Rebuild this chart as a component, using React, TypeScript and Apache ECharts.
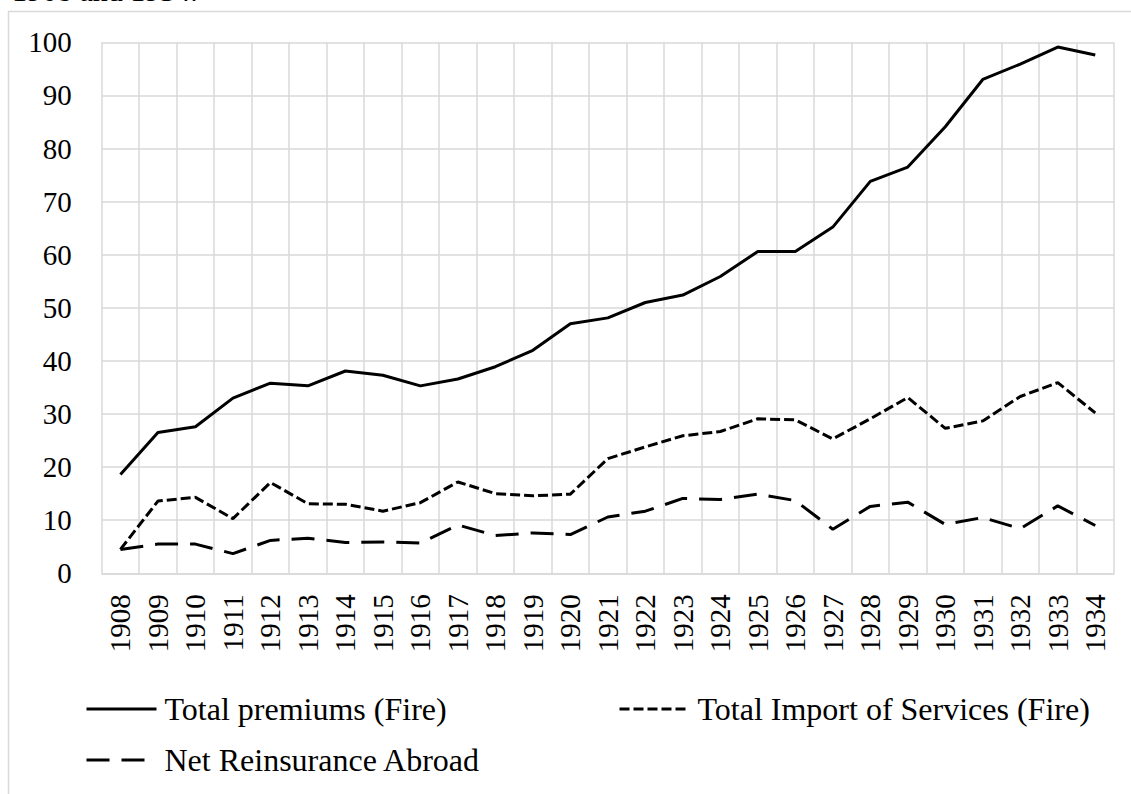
import React, { useEffect, useRef } from "react";
import * as echarts from "echarts";

const years = [
  "1908", "1909", "1910", "1911", "1912", "1913", "1914", "1915", "1916",
  "1917", "1918", "1919", "1920", "1921", "1922", "1923", "1924", "1925",
  "1926", "1927", "1928", "1929", "1930", "1931", "1932", "1933", "1934",
];

const totalPremiums = [
  18.6, 26.5, 27.6, 33.0, 35.8, 35.3, 38.1, 37.3, 35.3, 36.6, 38.9, 42.0, 47.0,
  48.1, 51.0, 52.4, 55.9, 60.6, 60.6, 65.2, 73.8, 76.5, 84.1, 93.0, 95.9, 99.1, 97.6,
];

const importServices = [
  4.5, 13.6, 14.3, 10.3, 17.1, 13.1, 13.0, 11.7, 13.3, 17.2, 15.0, 14.6, 14.9,
  21.6, 23.8, 25.9, 26.7, 29.1, 28.9, 25.3, 29.1, 33.1, 27.3, 28.7, 33.3, 35.9, 30.2,
];

const netReinsurance = [
  4.5, 5.5, 5.5, 3.7, 6.2, 6.6, 5.8, 5.9, 5.7, 9.1, 7.1, 7.6, 7.3,
  10.6, 11.7, 14.1, 13.9, 14.9, 13.7, 8.3, 12.6, 13.4, 9.2, 10.5, 8.4, 12.7, 9.0,
];

const seriesNames = [
  "Total premiums (Fire)",
  "Total Import of Services (Fire)",
  "Net Reinsurance Abroad",
];

const captionText = "1908 and 1934.";

const FONT = "'Liberation Serif', 'Times New Roman', serif";
const GRID = "#d9d9d9";

export default function App() {
  const ref = useRef<HTMLDivElement>(null);

  useEffect(() => {
    if (!ref.current) return;
    const chart = echarts.init(ref.current, undefined, { renderer: "svg" });
    const legendBase = {
      itemWidth: 70,
      itemHeight: 14,
      padding: 0,
      selectedMode: false,
      itemStyle: { opacity: 0, borderWidth: 0 },
      lineStyle: { width: 3 },
      textStyle: {
        fontSize: 32,
        fontFamily: FONT,
        color: "#000",
        lineHeight: 32,
        padding: [0, 0, 0, 3],
      },
    };
    chart.setOption({
      animation: false,
      backgroundColor: "#fff",
      textStyle: { fontFamily: FONT },
      graphic: [
        {
          type: "rect",
          silent: true,
          z: -10,
          shape: { x: 8.5, y: 11.5, width: 1400, height: 1000 },
          style: { fill: "none", stroke: GRID, lineWidth: 1.5 },
        },
        {
          type: "text",
          silent: true,
          x: 12,
          y: -10,
          style: {
            text: captionText,
            fontSize: 30,
            fontFamily: FONT,
            fill: "#000",
            verticalAlign: "middle",
          },
        },
      ],
      grid: {
        left: 101.7,
        right: 17,
        top: 42.3,
        bottom: 220.7,
        containLabel: false,
      },
      xAxis: {
        type: "category",
        data: years,
        boundaryGap: true,
        axisLine: { show: true, lineStyle: { color: GRID, width: 1.5 } },
        axisTick: { show: false },
        axisLabel: {
          rotate: 90,
          interval: 0,
          margin: 21,
          fontSize: 29,
          fontFamily: FONT,
          color: "#000",
        },
        splitLine: {
          show: true,
          interval: 0,
          lineStyle: { color: GRID, width: 1.5 },
        },
      },
      yAxis: {
        type: "value",
        min: 0,
        max: 100,
        interval: 10,
        axisLine: { show: false },
        axisTick: { show: false },
        axisLabel: {
          margin: 30,
          fontSize: 29,
          fontFamily: FONT,
          color: "#000",
        },
        splitLine: { show: true, lineStyle: { color: GRID, width: 1.5 } },
      },
      legend: [
        { ...legendBase, data: [seriesNames[0]], left: 85, top: 693 },
        { ...legendBase, data: [seriesNames[1]], left: 618, top: 693 },
        { ...legendBase, data: [seriesNames[2]], left: 85, top: 744 },
      ],
      series: [
        {
          name: seriesNames[0],
          type: "line",
          data: totalPremiums,
          symbol: "none",
          itemStyle: { color: "#000" },
          lineStyle: { color: "#000", width: 3, type: "solid" },
        },
        {
          name: seriesNames[1],
          type: "line",
          data: importServices,
          symbol: "none",
          itemStyle: { color: "#000" },
          lineStyle: { color: "#000", width: 3, type: [10, 4] },
        },
        {
          name: seriesNames[2],
          type: "line",
          data: netReinsurance,
          symbol: "none",
          itemStyle: { color: "#000" },
          lineStyle: { color: "#000", width: 3, type: [23, 12] },
        },
      ],
    });
    return () => chart.dispose();
  }, []);

  return (
    <div
      ref={ref}
      style={{
        position: "absolute",
        left: 0,
        top: 0,
        width: 1131,
        height: 794,
        background: "#fff",
      }}
    />
  );
}
